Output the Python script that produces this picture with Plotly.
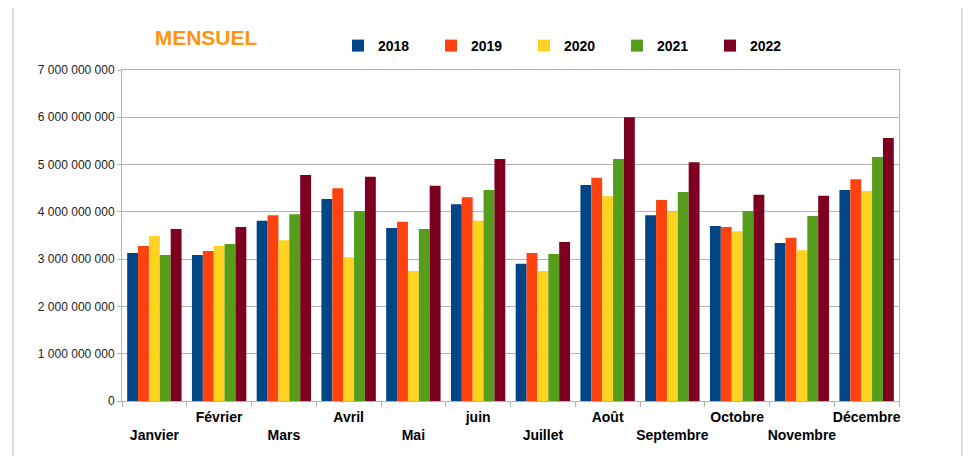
import plotly.graph_objects as go

months = ['Janvier', 'Février', 'Mars', 'Avril', 'Mai', 'juin', 'Juillet',
          'Août', 'Septembre', 'Octobre', 'Novembre', 'Décembre']
years = ['2018', '2019', '2020', '2021', '2022']

v2018 = [3.13e9, 3.09e9, 3.81e9, 4.27e9, 3.66e9, 4.16e9, 2.90e9, 4.57e9, 3.93e9, 3.70e9, 3.34e9, 4.46e9]
v2019 = [3.28e9, 3.17e9, 3.93e9, 4.50e9, 3.79e9, 4.31e9, 3.13e9, 4.72e9, 4.25e9, 3.68e9, 3.45e9, 4.69e9]
v2020 = [3.49e9, 3.28e9, 3.40e9, 3.04e9, 2.75e9, 3.81e9, 2.75e9, 4.33e9, 4.00e9, 3.59e9, 3.19e9, 4.44e9]
v2021 = [3.09e9, 3.32e9, 3.95e9, 4.02e9, 3.64e9, 4.46e9, 3.11e9, 5.12e9, 4.42e9, 4.02e9, 3.91e9, 5.16e9]
v2022 = [3.64e9, 3.68e9, 4.78e9, 4.74e9, 4.55e9, 5.12e9, 3.36e9, 6.00e9, 5.05e9, 4.36e9, 4.34e9, 5.56e9]

series = [v2018, v2019, v2020, v2021, v2022]
colors = ['#004586', '#ff420e', '#ffd320', '#579d1c', '#7e0021']

# staggered month labels: every other one pushed down a line
tick_text = [m if i % 2 else '<br>' + m for i, m in enumerate(months)]

fig = go.Figure()
for name, vals, col in zip(years, series, colors):
    fig.add_trace(go.Bar(x=months, y=vals, name=name, marker_color=col,
                         marker_line_width=0))

# page body has an 8px margin, so margins are offset to compensate
fig.update_layout(
    width=973, height=456,
    margin=dict(l=114, r=82, t=62, b=63, autoexpand=False),
    paper_bgcolor='white', plot_bgcolor='white',
    font=dict(family='Liberation Sans, Arial', size=12, color='#222'),
    barmode='group', bargap=0.16, bargroupgap=0,
    separators='. ',
    title=dict(text='MENSUEL', x=0.2035, y=0.934, xanchor='center', yanchor='middle',
               font=dict(size=21, color='#ff950e', weight='bold')),
    legend=dict(orientation='h', x=0.278, y=1.0725, xanchor='left', yanchor='middle',
                font=dict(size=14, color='black', weight='bold'),
                entrywidth=48, entrywidthmode='pixels', itemwidth=30,
                bgcolor='rgba(0,0,0,0)'),
    showlegend=True,
)

fig.update_xaxes(
    tickvals=months, ticktext=tick_text, tickson='boundaries', tickangle=0,
    ticks='outside', ticklen=5, tickcolor='#b3b3b3', automargin=False,
    ticklabelstandoff=3,
    showline=True, linecolor='#b3b3b3', linewidth=1, mirror=True,
    tickfont=dict(size=14, color='black', weight='bold'),
    showgrid=False,
)
fig.update_yaxes(
    range=[0, 7e9], dtick=1e9, tickformat=',d', automargin=False,
    ticks='outside', ticklen=4, tickcolor='#b3b3b3',
    showline=True, linecolor='#b3b3b3', linewidth=1, mirror=True,
    gridcolor='#b3b3b3', gridwidth=1, zeroline=False,
    tickfont=dict(size=12, color='#222'),
)

# outer chart border
fig.add_shape(type='rect', xref='paper', yref='paper',
              x0=-0.1403, x1=1.081, y0=-0.3, y1=1.196,
              line=dict(color='#a9bcd4', width=1), layer='below')

fig.write_html('out.html')
